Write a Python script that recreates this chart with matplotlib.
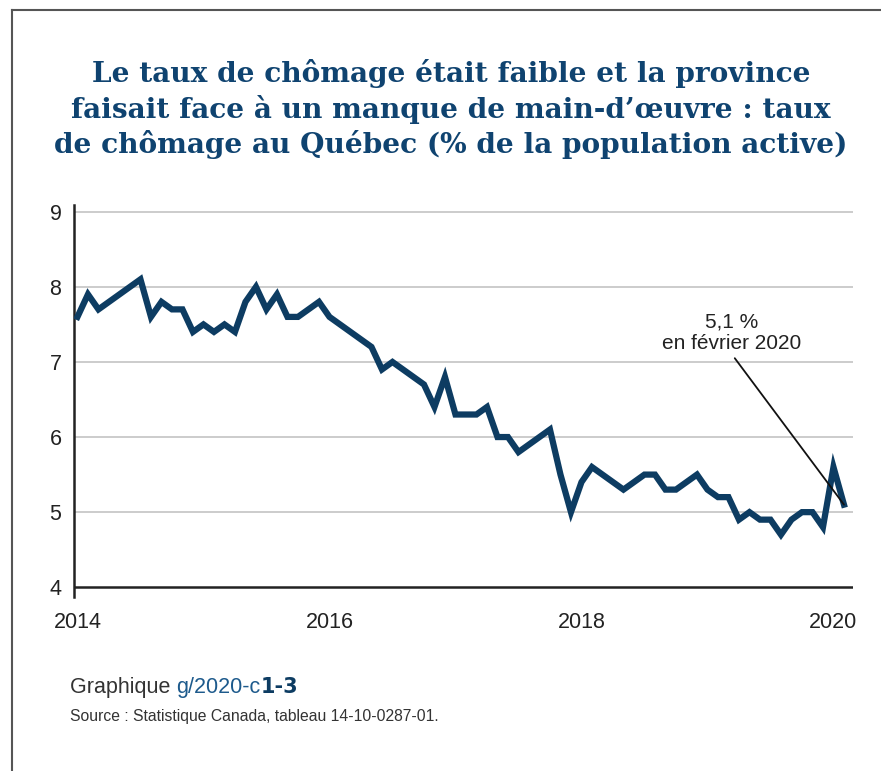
import numpy as np
import matplotlib.pyplot as plt
from matplotlib.lines import Line2D

# taux de chômage mensuel, Québec, janv. 2014 -> févr. 2020
rates = [7.6, 7.9, 7.7, 7.8, 7.9, 8.0, 8.1, 7.6, 7.8, 7.7, 7.7, 7.4,   # 2014
         7.5, 7.4, 7.5, 7.4, 7.8, 8.0, 7.7, 7.9, 7.6, 7.6, 7.7, 7.8,   # 2015
         7.6, 7.5, 7.4, 7.3, 7.2, 6.9, 7.0, 6.9, 6.8, 6.7, 6.4, 6.8,   # 2016
         6.3, 6.3, 6.3, 6.4, 6.0, 6.0, 5.8, 5.9, 6.0, 6.1, 5.5, 5.0,   # 2017
         5.4, 5.6, 5.5, 5.4, 5.3, 5.4, 5.5, 5.5, 5.3, 5.3, 5.4, 5.5,   # 2018
         5.3, 5.2, 5.2, 4.9, 5.0, 4.9, 4.9, 4.7, 4.9, 5.0, 5.0, 4.8,   # 2019
         5.6, 5.1]                                                     # 2020
years = ["2014", "2016", "2018", "2020"]
year_pos = [0, 24, 48, 72]
y_ticks = [4, 5, 6, 7, 8, 9]

title = ("Le taux de chômage était faible et la province\n"
         "faisait face à un manque de main-d’œuvre : taux\n"
         "de chômage au Québec (% de la population active)")

navy = "#0d3c62"
title_col = "#0f4370"

plt.rcParams['font.family'] = ['Liberation Sans', 'DejaVu Sans']

fig = plt.figure(figsize=(8.81, 7.71), dpi=100)

# cadre gris (haut et gauche seulement)
fig.add_artist(Line2D([12/881, 1.0], [1 - 10/771, 1 - 10/771], color="#555555", lw=1.5))
fig.add_artist(Line2D([12/881, 12/881], [0, 1 - 10/771], color="#555555", lw=1.5))

fig.text(0.512, 1 - 109/771, title, ha="center", va="center", fontsize=20.2,
         family="DejaVu Serif", weight="bold", color=title_col, linespacing=1.3)

ax = fig.add_axes([74/881, 1 - 597/771, (853 - 74)/881, (597 - 205)/771])
x = np.arange(len(rates))
ax.set_xlim(-0.33, 73.86)
ax.set_ylim(3.87, 9.09)

for v in y_ticks[1:]:
    ax.axhline(v, color="#cccccc", lw=1.4, zorder=1)
ax.axhline(4, color="#222222", lw=1.8, zorder=2)

ax.plot(x, rates, color=navy, lw=4.5, solid_joinstyle="miter", zorder=3)

for s in ["top", "right", "bottom"]:
    ax.spines[s].set_visible(False)
ax.spines["left"].set_color("#222222")
ax.spines["left"].set_linewidth(1.8)

ax.set_yticks(y_ticks)
ax.set_yticklabels([str(v) for v in y_ticks])
ax.set_xticks(year_pos)
ax.set_xticklabels(years)
ax.tick_params(axis="y", length=0, pad=9, labelsize=15.5, labelcolor="#222222")
ax.tick_params(axis="x", length=0, pad=11, labelsize=15.5, labelcolor="#222222")

ax.text(62.3, 7.39, "5,1 %\nen février 2020", ha="center", va="center",
        fontsize=15, color="#222222", linespacing=1.2)
ax.annotate("", xy=(73, 5.1), xytext=(62.6, 7.05),
            arrowprops=dict(arrowstyle="-", color="#111111", lw=1.3,
                            shrinkA=0, shrinkB=0))

# pied de page
fig.canvas.draw()
r = fig.canvas.get_renderer()
fy = 1 - 687/771
t1 = fig.text(70/881, fy, "Graphique ", fontsize=15.5, color="#333333", va="center")
w1 = t1.get_window_extent(r).width
t2 = fig.text((70 + w1)/881, fy, "g/2020-c", fontsize=15.5, color="#1d5a8c", va="center")
w2 = t2.get_window_extent(r).width
fig.text((70 + w1 + w2)/881, fy, "1-3", fontsize=15, color=navy, va="center",
         family="DejaVu Sans", weight="heavy")
fig.text(70/881, 1 - 716/771, "Source : Statistique Canada, tableau 14-10-0287-01.",
         fontsize=11.3, color="#333333", va="center")

fig.savefig("out.png", dpi=100)
